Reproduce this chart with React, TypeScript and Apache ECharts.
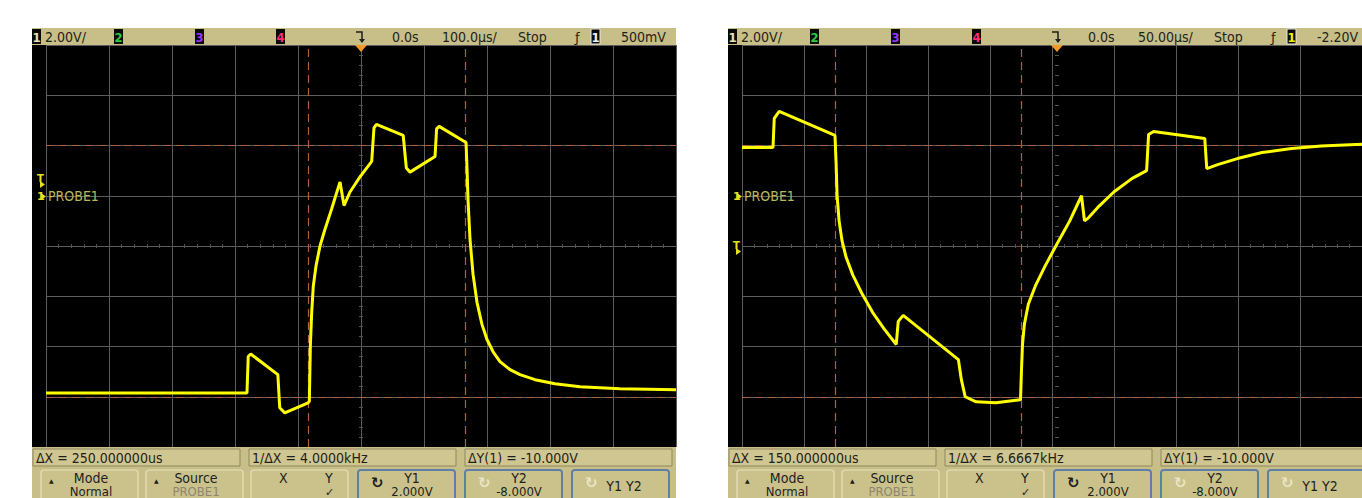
import React, { useEffect, useRef } from "react";
import * as echarts from "echarts";

// ---- data (time in µs, voltage in V) ----
const leftTime = [-500, -181, -179, -175, -132, -129, -121, -84, -82, -80.4, -78.3, -75.7, -71.4, -65, -57, -46.5, -33.3, -27, -17.5, -1.6, 17, 20.6, 24.5, 67, 72, 77.8, 117.5, 120, 124, 166.7, 168.3, 169.8, 173, 177.8, 184.1, 192, 200, 209.5, 220.6, 236.5, 252.4, 276.2, 307.9, 347.6, 411, 500];
const leftVolts = [-7.85, -7.85, -6.4, -6.3, -7.12, -8.44, -8.64, -8.24, -8.19, -5.99, -4.65, -3.59, -2.79, -1.99, -1.32, -0.52, 0.55, -0.39, 0.15, 0.75, 1.37, 2.7, 2.84, 2.4, 1.1, 0.94, 1.56, 2.66, 2.76, 2.12, 1.08, -0.12, -1.72, -3.12, -4.24, -5.12, -5.72, -6.2, -6.6, -6.92, -7.12, -7.32, -7.48, -7.6, -7.68, -7.72];

const rightTime = [-250, -225, -224, -220, -175, -174.1, -173.3, -171.7, -169.3, -166.1, -160.6, -153.4, -144.7, -135.1, -125.6, -124, -120, -75.5, -73.1, -70, -61.2, -45.3, -25.4, -24.6, -23.8, -22.3, -19.1, -13.5, -5.6, 4, 14.3, 23.8, 26.2, 29.4, 38.2, 50.1, 64.4, 76.3, 77.9, 81.9, 123.2, 124.8, 133.6, 149.5, 169.4, 193.2, 217, 250];
const rightVolts = [1.92, 1.92, 3.08, 3.36, 2.4, 1.28, 0, -1.0, -1.8, -2.44, -3.16, -3.88, -4.64, -5.32, -5.92, -5.0, -4.76, -6.52, -7.32, -8.0, -8.2, -8.24, -8.12, -6.92, -5.92, -5.12, -4.32, -3.6, -2.8, -1.92, -1.0, 0, -1.0, -0.88, -0.4, 0.16, 0.68, 1.0, 2.44, 2.56, 2.28, 1.08, 1.24, 1.48, 1.72, 1.88, 1.98, 2.05];

const leftCursorX = [-84, 166];
const rightCursorX = [-175, -25];
const cursorY = [2, -8];

const leftTopTexts = ["2.00V/", "0.0s", "100.0µs/", "Stop", "500mV"];
const rightTopTexts = ["2.00V/", "0.0s", "50.00µs/", "Stop", "-2.20V"];
const leftMeasure = ["ΔX = 250.000000us", "1/ΔX = 4.0000kHz", "ΔY(1) = -10.000V"];
const rightMeasure = ["ΔX = 150.000000us", "1/ΔX = 6.6667kHz", "ΔY(1) = -10.000V"];
const buttonTop = ["Mode", "Source", "X", "Y1", "Y2", "Y1 Y2"];
const buttonBottom = ["Normal", "PROBE1", "", "2.000V", "-8.000V", ""];

const FONT = "'Liberation Sans Narrow', 'DejaVu Sans Condensed', 'Arial Narrow', sans-serif";
const TAN = "#c8be87";
const INK = "#1e1e1a";

function txt(x: number, y: number, s: string, o: any = {}) {
  return {
    type: "text",
    z: 100,
    silent: true,
    style: {
      text: s,
      x,
      y,
      fill: o.fill || INK,
      fontSize: o.size || 14,
      fontFamily: o.family || FONT,
      fontWeight: o.weight || "normal",
      textAlign: o.align || "left",
      textVerticalAlign: "middle",
    },
  };
}

function rect(x: number, y: number, w: number, h: number, fill: string, o: any = {}) {
  return {
    type: "rect",
    z: o.z ?? 90,
    silent: true,
    shape: { x, y, width: w, height: h, r: o.r || 0 },
    style: { fill, stroke: o.stroke || null, lineWidth: o.lw || 0 },
  };
}

function chanBox(x: number, label: string, color: string, border?: string) {
  return [
    rect(x, 29, 9, 15, "#0a0a0a", { z: 95, stroke: border, lw: border ? 1 : 0 }),
    txt(x + 4.5, 37, label, { fill: color, size: 13, align: "center", weight: "bold" }),
  ];
}

function screen(ox: number, top: string[], meas: string[], trigBoxColor: string) {
  const els: any[] = [];
  els.push(rect(ox + 32, 45, 14, 402, "#000", { z: 1 }));
  // top status bar
  els.push(rect(ox + 32, 28, 644, 17, TAN));
  els.push(...chanBox(ox + 32, "1", "#e8e2b0"));
  els.push(txt(ox + 45, 37, top[0]));
  els.push(...chanBox(ox + 114, "2", "#2ecc40"));
  els.push(...chanBox(ox + 195, "3", "#9b30ff"));
  els.push(...chanBox(ox + 276, "4", "#ff2d6f"));
  els.push({
    type: "polyline", z: 100, silent: true,
    shape: { points: [[ox + 356, 32], [ox + 362, 32], [ox + 362, 42]] },
    style: { stroke: INK, lineWidth: 1.5, fill: null },
  });
  els.push({
    type: "polygon", z: 100, silent: true,
    shape: { points: [[ox + 359, 39], [ox + 365, 39], [ox + 362, 43]] },
    style: { fill: INK },
  });
  els.push(txt(ox + 392, 37, top[1]));
  els.push(txt(ox + 442, 37, top[2]));
  els.push(txt(ox + 518, 37, top[3]));
  els.push(txt(ox + 575, 37, "ƒ", { size: 13, family: "DejaVu Sans" }));
  els.push(...chanBox(ox + 591, "1", trigBoxColor, "#e8e8e8"));
  els.push(txt(ox + 621, 37, top[4]));
  // orange trigger marker
  els.push({
    type: "polygon", z: 100, silent: true,
    shape: { points: [[ox + 355, 45], [ox + 367, 45], [ox + 361, 52]] },
    style: { fill: "#f39a2a" },
  });
  // left markers
  const ty = ox === 0 ? 184.5 : 251.5;
  els.push(txt(ox + 37, ty - 6, "T", { fill: "#e6e020", size: 10, family: "DejaVu Sans", weight: "bold" }));
  els.push({
    type: "polygon", z: 100, silent: true,
    shape: { points: [[ox + 40, ty - 3.5], [ox + 40, ty + 3.5], [ox + 45, ty]] },
    style: { fill: "#e6e020" },
  });
  els.push(txt(ox + 37, 196, "1", { fill: "#e6e020", size: 11, family: "DejaVu Sans", weight: "bold" }));
  els.push({
    type: "polygon", z: 100, silent: true,
    shape: { points: [[ox + 41, 193], [ox + 41, 200], [ox + 46, 196.5]] },
    style: { fill: "#e6e020" },
  });
  els.push(txt(ox + 48, 196, "PROBE1", { fill: "#b9b85a", size: 14 }));
  // bottom panel
  els.push(rect(ox + 32, 447, 644, 51, TAN));
  const mx = [33, 249, 465];
  for (let i = 0; i < 3; i++) {
    els.push(rect(ox + mx[i], 449, 207, 17, "#cfc692", { stroke: "#8f8860", lw: 1, z: 92 }));
    els.push(txt(ox + mx[i] + 3, 458, meas[i], { size: 14 }));
  }
  const bx = [41, 146, 251, 358, 465, 572];
  for (let i = 0; i < 6; i++) {
    const x = ox + bx[i];
    const blue = i >= 3;
    els.push(rect(x, 470, 97, 32, "#cbc28b", { stroke: blue ? "#5f7fa6" : "#e8e2bd", lw: blue ? 2 : 1.2, z: 92, r: 3 }));
    const cx = x + 48;
    if (i === 0 || i === 1) {
      els.push(txt(x + 8, 480, "▲", { size: 6, family: "DejaVu Sans" }));
    }
    if (i === 2) {
      els.push(txt(x + 28, 478, "X", { size: 14 }));
      els.push(txt(x + 74, 478, "Y", { size: 14 }));
      els.push(txt(x + 74, 492.5, "✓", { size: 11, family: "DejaVu Sans" }));
      continue;
    }
    if (i >= 3) {
      els.push(txt(x + 13, 483, "↻", { size: 15, family: "DejaVu Sans", fill: i === 3 ? INK : "#e9e4c6", weight: "bold" }));
    }
    if (i === 5) {
      els.push(txt(cx + 4, 486, buttonTop[i], { size: 14, align: "center" }));
      continue;
    }
    els.push(txt(i >= 3 ? cx + 6 : cx + 2, 478, buttonTop[i], { size: 14, align: "center" }));
    els.push(txt(i >= 3 ? cx + 6 : cx + 2, 491, buttonBottom[i], { size: 13, align: "center", fill: i === 1 ? "#8b8670" : INK }));
  }
  return els;
}

function cursorLines(xs: number[]) {
  return {
    silent: true,
    symbol: "none",
    label: { show: false },
    lineStyle: { color: "#b0603c", type: [8, 5], width: 1.2 },
    data: [{ xAxis: xs[0] }, { xAxis: xs[1] }, { yAxis: cursorY[0] }, { yAxis: cursorY[1] }],
  };
}

function mainAxis(min: number, max: number, interval: number, gridIndex: number) {
  return {
    type: "value",
    gridIndex,
    min,
    max,
    interval,
    axisLine: { show: false },
    axisTick: { show: false },
    axisLabel: { show: false },
    splitLine: { show: true, lineStyle: { color: "#5c5c5c", width: 1 } },
  };
}

// minor tick marks along the graticule's centre lines
function centreTicks(min: number, max: number, interval: number, gridIndex: number, position: string, offset: number) {
  return {
    type: "value",
    gridIndex,
    min,
    max,
    interval,
    position,
    offset,
    axisLine: { show: false },
    axisTick: { show: true, length: 2, lineStyle: { color: "#555555", width: 1 } },
    axisLabel: { show: false },
    splitLine: { show: false },
  };
}

export default function App() {
  const ref = useRef<HTMLDivElement>(null);
  useEffect(() => {
    if (!ref.current) return;
    const chart = echarts.init(ref.current, null, { renderer: "svg" });
    const gridBase = { top: 45, width: 630, height: 402, show: true, backgroundColor: "#000", borderWidth: 0 };
    chart.setOption({
      animation: false,
      backgroundColor: "#ffffff",
      grid: [
        { ...gridBase, left: 46 },
        { ...gridBase, left: 742 },
      ],
      xAxis: [
        mainAxis(-500, 500, 100, 0),
        mainAxis(-250, 250, 50, 1),
        centreTicks(-500, 500, 20, 0, "bottom", -201),
        centreTicks(-500, 500, 20, 0, "top", -201),
        centreTicks(-250, 250, 10, 1, "bottom", -201),
        centreTicks(-250, 250, 10, 1, "top", -201),
      ],
      yAxis: [
        mainAxis(-10, 6, 2, 0),
        mainAxis(-10, 6, 2, 1),
        centreTicks(-10, 6, 0.4, 0, "left", -315),
        centreTicks(-10, 6, 0.4, 0, "right", -315),
        centreTicks(-10, 6, 0.4, 1, "left", -315),
        centreTicks(-10, 6, 0.4, 1, "right", -315),
      ],
      series: [
        {
          type: "line",
          xAxisIndex: 0,
          yAxisIndex: 0,
          data: leftTime.map((t, i) => [t, leftVolts[i]]),
          showSymbol: false,
          lineStyle: { color: "#ffff00", width: 3 },
          itemStyle: { color: "#ffff00" },
          z: 5,
          markLine: cursorLines(leftCursorX),
        },
        {
          type: "line",
          xAxisIndex: 1,
          yAxisIndex: 1,
          data: rightTime.map((t, i) => [t, rightVolts[i]]),
          showSymbol: false,
          lineStyle: { color: "#ffff00", width: 3 },
          itemStyle: { color: "#ffff00" },
          z: 5,
          markLine: cursorLines(rightCursorX),
        },
      ],
      graphic: {
        elements: [
          ...screen(0, leftTopTexts, leftMeasure, "#f0f0f0"),
          ...screen(696, rightTopTexts, rightMeasure, "#f2f200"),
        ],
      },
    });
    return () => chart.dispose();
  }, []);
  return (
    <div
      ref={ref}
      style={{ position: "fixed", left: 0, top: 0, width: 1362, height: 498, background: "#fff" }}
    />
  );
}
